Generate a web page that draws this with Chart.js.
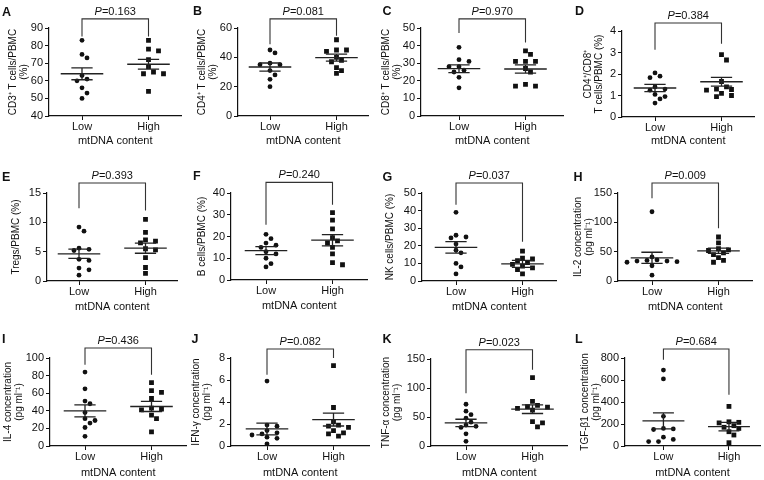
<!DOCTYPE html>
<html>
<head>
<meta charset="utf-8">
<title>mtDNA content panels</title>
<script src="https://cdn.jsdelivr.net/npm/chart.js@4.4.1/dist/chart.umd.min.js"></script>
<style>
  html, body { margin: 0; padding: 0; background: #fff; }
  #fig { position: relative; width: 764px; height: 480px; overflow: hidden; background: #fff; }
  #fig canvas { position: absolute; }
</style>
</head>
<body>
<div id="fig"></div>
<script>
// ---- data ----
var groups = ["Low", "High"];
var letters = ["A", "B", "C", "D", "E", "F", "G", "H", "I", "J", "K", "L"];
var pValues = ["0.163", "0.081", "0.970", "0.384", "0.393", "0.240", "0.037", "0.009", "0.436", "0.082", "0.023", "0.684"];
var yTitles = [
  ["CD3\u207A T cells/PBMC", "(%)"],
  ["CD4\u207A T cells/PBMC", "(%)"],
  ["CD8\u207A T cells/PBMC", "(%)"],
  ["CD4\u207A/CD8\u207A", "T cells/PBMC (%)"],
  "Tregs/PBMC (%)",
  "B cells/PBMC (%)",
  "NK cells/PBMC (%)",
  ["IL-2 concentration", "(pg ml\u207B\u00B9)"],
  ["IL-4 concentration", "(pg ml\u207B\u00B9)"],
  ["IFN-\u03B3 concentration", "(pg ml\u207B\u00B9)"],
  ["TNF-\u03B1 concentration", "(pg ml\u207B\u00B9)"],
  ["TGF-\u03B21 concentration", "(pg ml\u207B\u00B9)"]
];
var yMin = [40, 0, 0, 0, 0, 0, 0, 0, 0, 0, 0, 0];
var yMax = [90, 60, 50, 4, 15, 40, 50, 150, 100, 8, 150, 800];
var yStep = [10, 20, 10, 1, 5, 10, 10, 50, 20, 2, 50, 200];

var lowA = [83, 75, 73, 63, 61, 60, 56, 53, 50];
var highA = [83, 78, 77, 72, 68, 65, 64, 64, 54];
var lowB = [45, 43, 36, 35, 35, 31, 28, 25, 20];
var highB = [52, 45, 45, 44, 40, 38, 37, 33, 31, 29];
var lowC = [39, 32, 31, 28, 28, 26, 25, 22, 16];
var highC = [37, 35, 31, 31, 31, 27, 25, 18, 17, 17];
var lowD = [2.05, 1.9, 1.83, 1.4, 1.3, 1.25, 1.05, 0.95, 0.84, 0.65];
var highD = [2.9, 2.65, 1.65, 1.4, 1.3, 1.28, 1.25, 1.1, 1.0, 0.95];
var lowE = [9.2, 8.5, 5.6, 5.4, 5.2, 3.7, 3.5, 2.2, 1.9, 1.0];
var highE = [10.5, 8.3, 7.0, 6.8, 6.5, 5.5, 5.3, 4.0, 2.3, 1.3];
var lowF = [21, 19, 17, 16, 15, 13, 12, 10, 7.5, 6];
var highF = [31, 27.5, 23.5, 19.5, 18, 17, 15, 12, 8, 7];
var lowG = [39, 26, 25, 24.5, 21, 17.5, 16, 10, 8, 4];
var highG = [17, 13, 12.5, 11.5, 10.5, 9.5, 8.5, 7.5, 6.5, 4];
var lowH = [118, 41, 36, 35, 34, 34, 33, 32, 26, 10];
var highH = [75, 65, 55, 53, 52, 48, 45, 40, 35, 32];
var lowI = [84, 65, 51, 48, 38, 31, 29, 26, 21, 11];
var highI = [72, 63, 61, 54, 43, 42, 41, 35, 31, 16];
var lowJ = [5.9, 1.9, 1.8, 1.4, 1.2, 1.1, 1.0, 0.8, 0.7, 0.2];
var highJ = [7.3, 3.5, 2.2, 1.9, 1.8, 1.7, 1.4, 1.2, 1.1, 0.9];
var lowK = [72, 60, 54, 48, 41, 36, 34, 32, 21, 8];
var highK = [118, 77, 70, 68, 67, 65, 62, 42, 40, 33];
var lowL = [690, 610, 270, 160, 155, 150, 80, 60, 40, 40];
var highL = [360, 220, 215, 210, 185, 170, 160, 130, 100, 30];

// mean and SEM of [Low, High] as drawn
var means = [[64.0, 69.4], [33.4, 39.8], [26.9, 26.7], [1.35, 1.64], [4.64, 5.6], [13.5, 18.3],
             [19.1, 9.7], [39.5, 51.5], [39.9, 44.9], [1.55, 2.4], [39.8, 63.5], [228, 176]];
var sems = [[3.4, 2.8], [2.75, 2.4], [2.2, 2.3], [0.17, 0.2], [0.8, 0.87], [1.8, 2.6],
            [3.3, 2.0], [9.5, 4.5], [6.8, 5.7], [0.53, 0.58], [6.3, 7.5], [73, 38]];
// bracket: [top, Low leg end, High leg end] in axis units
var brackets = [[95.2, 85.2, 85.2], [66.2, 49, 54.7], [55.2, 47.1, 41.8], [4.37, 3.13, 3.41],
                [16.7, 12.4, 12.0], [44.9, 25.4, 34.6], [55.7, 43.3, 22.3], [167, 141, 90],
                [111.4, 92.4, 81], [8.82, 6.48, 8.0], [166, 91, 131.5], [882, 785, 466]];

var lowVals = [lowA, lowB, lowC, lowD, lowE, lowF, lowG, lowH, lowI, lowJ, lowK, lowL];
var highVals = [highA, highB, highC, highD, highE, highF, highG, highH, highI, highJ, highK, highL];

// ---- page layout (px): axisX, lowX, topY, bottomY, yTitleX, letterX, letterBase, xTitleGap ----
var layout = [
  [49, 82, 28, 116, 13, 2, 15.5, 24.5],
  [238, 270, 28, 116, 202.7, 193, 15, 24.5],
  [421, 459, 28, 116, 386, 382.5, 15, 24.5],
  [622, 655, 31, 117, 588, 575, 15, 24],
  [47, 79, 193, 281, 16, 2, 180.5, 25.5],
  [231, 266, 193, 280, 202.7, 193, 180, 25.5],
  [422, 456, 193, 281, 390.5, 382.5, 180.5, 25.5],
  [618, 652, 193, 281, 578, 573.5, 180.5, 25.5],
  [50, 85, 358, 446, 8.3, 2, 343, 27],
  [231, 267, 358, 446, 196, 191.5, 343, 27],
  [431, 466, 359, 446, 386.5, 382.5, 343, 27],
  [625, 664, 358, 446, 585, 575, 343, 27]
];

(function () {
  "use strict";
  var FONT = '"Liberation Sans", Arial, Helvetica, sans-serif';
  var INK = "#111";
  var GAP = 66.5; // px between the Low and High columns
  var CELL_W = 191, CELL_H = 160, MARGIN = 10;
  var CV_W = CELL_W + MARGIN;
  var fig = document.getElementById("fig");

  // simple beeswarm: push overlapping points sideways
  function spread(values, pxPerY) {
    var placed = [];
    return values.map(function (v) {
      var py = v * pxPerY;
      for (var k = 0; k < 30; k++) {
        var dx = Math.ceil(k / 2) * (k % 2 ? 1 : -1) * 5;
        var free = placed.every(function (p) { return Math.hypot(p[0] - dx, p[1] - py) >= 5.5; });
        if (free) { placed.push([dx, py]); return dx / GAP; }
      }
      return 0;
    });
  }

  function makeOverlay(i, cvLeft, cvTop) {
    return {
      id: "overlay" + i,
      afterDatasetsDraw: function (chart) {
        var ctx = chart.ctx, xs = chart.scales.x, ys = chart.scales.y;
        var m = means[i], s = sems[i], b = brackets[i], L = layout[i];
        ctx.save();
        ctx.strokeStyle = "#222";
        ctx.lineWidth = 1.3;
        ctx.beginPath();
        for (var g = 0; g < 2; g++) {
          var ym = ys.getPixelForValue(m[g]);
          var yu = ys.getPixelForValue(m[g] + s[g]);
          var yl = ys.getPixelForValue(m[g] - s[g]);
          var xc = xs.getPixelForValue(g);
          ctx.moveTo(xs.getPixelForValue(g - 0.32), ym); ctx.lineTo(xs.getPixelForValue(g + 0.32), ym);
          ctx.moveTo(xs.getPixelForValue(g - 0.16), yu); ctx.lineTo(xs.getPixelForValue(g + 0.16), yu);
          ctx.moveTo(xs.getPixelForValue(g - 0.16), yl); ctx.lineTo(xs.getPixelForValue(g + 0.16), yl);
          ctx.moveTo(xc, yu); ctx.lineTo(xc, yl);
        }
        ctx.stroke();

        // significance bracket
        var x0 = xs.getPixelForValue(0), x1 = xs.getPixelForValue(1);
        var yt = ys.getPixelForValue(b[0]);
        ctx.lineWidth = 1.1;
        ctx.strokeStyle = "#333";
        ctx.beginPath();
        ctx.moveTo(x0, ys.getPixelForValue(b[1]));
        ctx.lineTo(x0, yt);
        ctx.lineTo(x1, yt);
        ctx.lineTo(x1, ys.getPixelForValue(b[2]));
        ctx.stroke();

        // P value, italic P
        ctx.fillStyle = INK;
        ctx.textBaseline = "middle";
        ctx.textAlign = "left";
        var fi = "italic 11px " + FONT, fr = "11px " + FONT, rest = "=" + pValues[i];
        ctx.font = fi; var wp = ctx.measureText("P").width;
        ctx.font = fr; var wr = ctx.measureText(rest).width;
        var tx = (x0 + x1) / 2 - (wp + wr) / 2, ty = yt - 7;
        ctx.font = fi; ctx.fillText("P", tx, ty);
        ctx.font = fr; ctx.fillText(rest, tx + wp, ty);

        // panel letter
        ctx.font = "bold 12.5px " + FONT;
        ctx.textBaseline = "alphabetic";
        ctx.fillText(letters[i], L[5] - cvLeft, L[6] - cvTop);
        ctx.restore();
      }
    };
  }

  letters.forEach(function (letter, i) {
    var L = layout[i];
    // canvases reach a little into the left neighbour so long axis titles are not cut
    var cvLeft = (i % 4) * CELL_W - MARGIN, cvTop = Math.floor(i / 4) * CELL_H;
    var cv = document.createElement("canvas");
    cv.width = CV_W; cv.height = CELL_H;
    cv.style.left = cvLeft + "px";
    cv.style.top = cvTop + "px";
    fig.appendChild(cv);

    var side = L[1] - L[0];
    var yw = L[0] - cvLeft;
    var plotW = Math.min(GAP + 2 * side, CV_W - 2 - yw);
    var xMin = -side / GAP, xMax = xMin + plotW / GAP;
    var xh = L[7] + 6.6;
    var areaTop = L[2] - cvTop, areaBottom = L[3] - cvTop;
    var pxPerY = (L[3] - L[2]) / (yMax[i] - yMin[i]);
    var tLine = 11;

    var lowOff = spread(lowVals[i], pxPerY);
    var highOff = spread(highVals[i], pxPerY);
    var lowPts = lowVals[i].map(function (v, k) { return { x: 0 + lowOff[k], y: v }; });
    var highPts = highVals[i].map(function (v, k) { return { x: 1 + highOff[k], y: v }; });

    new Chart(cv, {
      type: "scatter",
      data: {
        datasets: [
          { label: groups[0], data: lowPts, pointStyle: "circle", pointRadius: 2.4,
            backgroundColor: INK, borderWidth: 0 },
          { label: groups[1], data: highPts, pointStyle: "rect", pointRadius: 3.4,
            backgroundColor: INK, borderWidth: 0 }
        ]
      },
      options: {
        responsive: false,
        animation: false,
        events: [],
        layout: {
          padding: { left: 0, top: areaTop, right: CV_W - yw - plotW, bottom: CELL_H - areaBottom - xh }
        },
        plugins: { legend: { display: false }, tooltip: { enabled: false } },
        scales: {
          x: {
            type: "linear",
            min: xMin,
            max: xMax,
            afterBuildTicks: function (s) { s.ticks = [{ value: 0 }, { value: 1 }]; },
            afterFit: function (s) { s.height = xh; },
            ticks: {
              autoSkip: false, maxRotation: 0, padding: 0, color: INK,
              font: { family: FONT, size: 11 },
              callback: function (v) { return groups[v]; }
            },
            grid: { drawOnChartArea: false, tickLength: 4, color: INK, lineWidth: 1 },
            border: { color: INK, width: 1.2 },
            title: {
              display: true, text: "mtDNA content", color: INK,
              font: { family: FONT, size: 11 }, padding: { top: 0, bottom: 0 }
            }
          },
          y: {
            min: yMin[i],
            max: yMax[i],
            afterFit: function (s) { s.width = yw; },
            ticks: { stepSize: yStep[i], padding: 2, color: INK, font: { family: FONT, size: 11 } },
            grid: { drawOnChartArea: false, tickLength: 4, color: INK, lineWidth: 1 },
            border: { color: INK, width: 1.2 },
            title: {
              display: true, text: yTitles[i], color: INK,
              font: { family: FONT, size: 10, lineHeight: tLine / 10 },
              padding: { top: L[4] - cvLeft - tLine / 2, bottom: 0 }
            }
          }
        }
      },
      plugins: [makeOverlay(i, cvLeft, cvTop)]
    });
  });
})();
</script>
</body>
</html>
